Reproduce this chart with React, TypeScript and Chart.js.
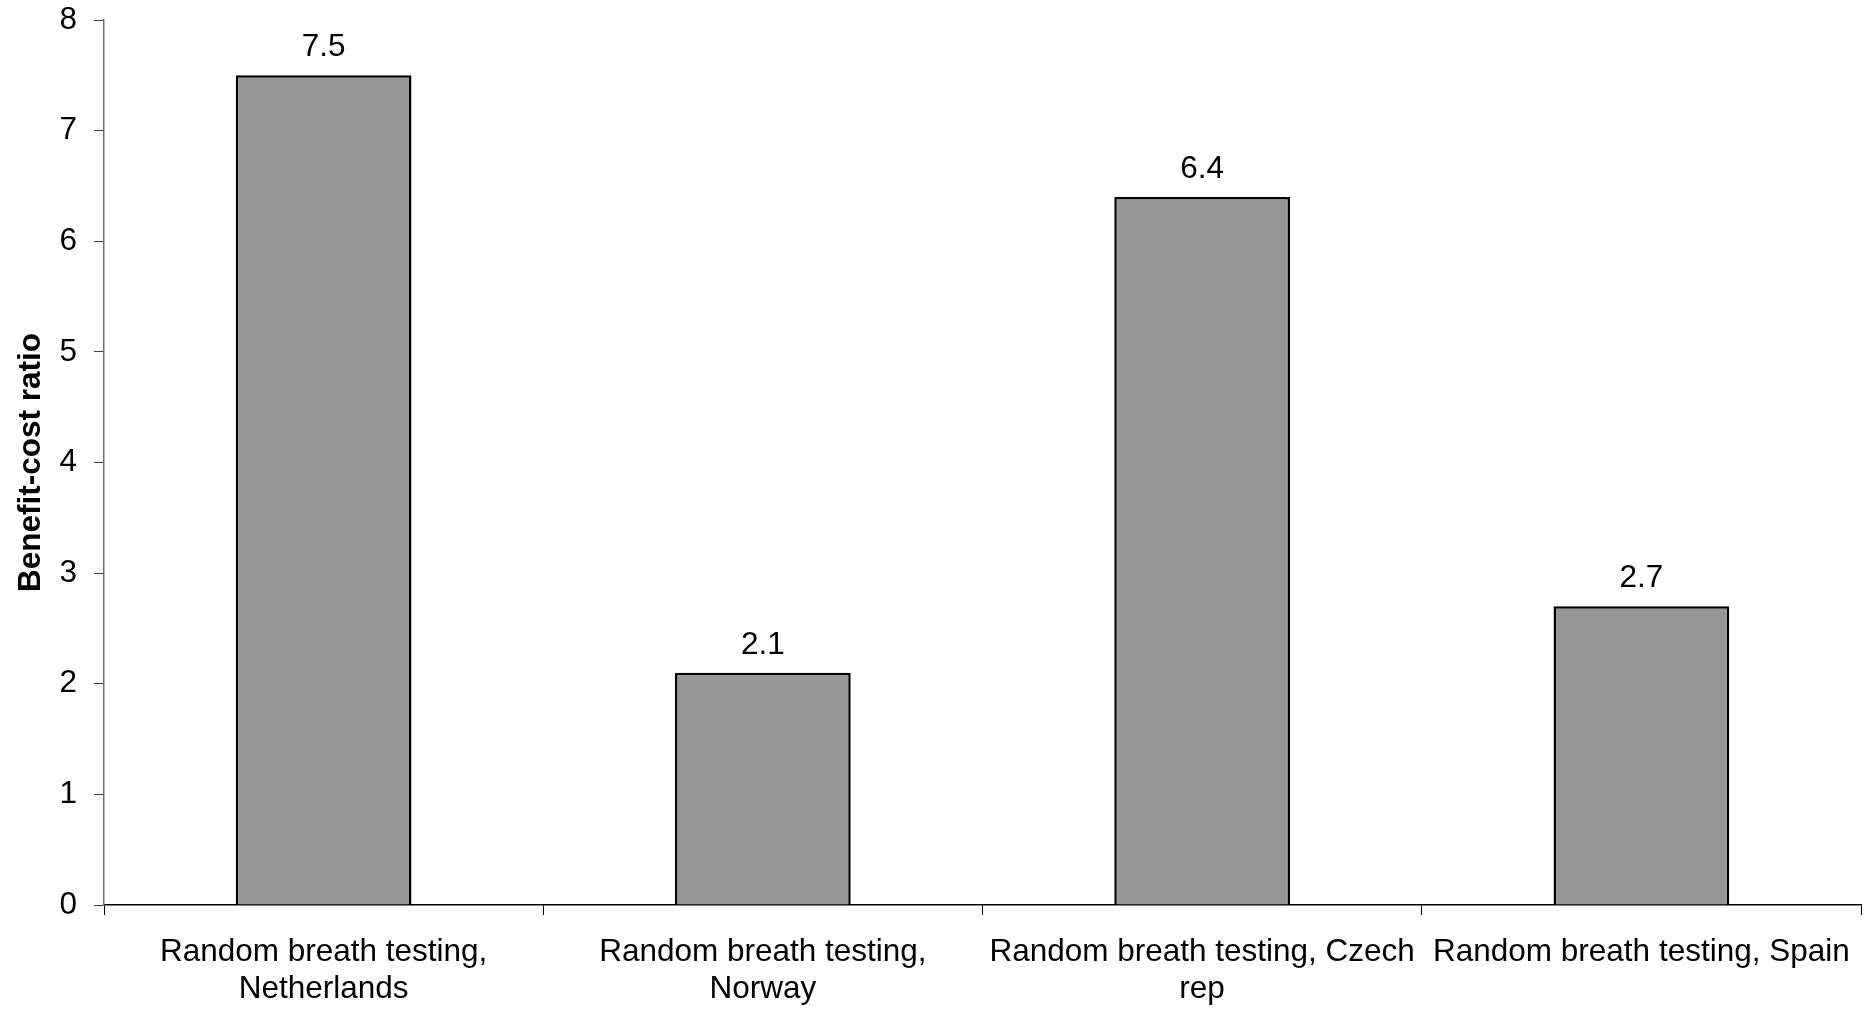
import React, { useEffect, useRef } from "react";
import { Chart, registerables } from "chart.js";

Chart.register(...registerables);

const categories: string[][] = [
  ["Random breath testing,", "Netherlands"],
  ["Random breath testing,", "Norway"],
  ["Random breath testing, Czech", "rep"],
  ["Random breath testing, Spain"],
];
const ratios: number[] = [7.5, 2.1, 6.4, 2.7];
const valueLabels: string[] = ["7.5", "2.1", "6.4", "2.7"];
const yTitle = "Benefit-cost ratio";

const FONT = "'Liberation Sans', Arial, sans-serif";

const valueLabelPlugin = {
  id: "valueLabels",
  afterDatasetsDraw(chart: any) {
    const ctx = chart.ctx;
    const meta = chart.getDatasetMeta(0);
    ctx.save();
    ctx.font = `31.5px ${FONT}`;
    ctx.fillStyle = "#000";
    ctx.textAlign = "center";
    ctx.textBaseline = "alphabetic";
    meta.data.forEach((bar: any, i: number) => {
      ctx.fillText(valueLabels[i], bar.x, bar.y - 19);
    });
    ctx.restore();
  },
};

export default function App() {
  const ref = useRef<HTMLCanvasElement | null>(null);
  useEffect(() => {
    if (!ref.current) return;
    const chart = new Chart(ref.current, {
      type: "bar",
      data: {
        labels: categories,
        datasets: [
          {
            data: ratios,
            backgroundColor: "#969696",
            borderColor: "#000000",
            borderWidth: 2.5,
            categoryPercentage: 1,
            barPercentage: 0.4,
          },
        ],
      },
      options: {
        responsive: false,
        animation: false,
        layout: { padding: { top: 20, right: 6, left: 0, bottom: 0 } },
        plugins: { legend: { display: false }, tooltip: { enabled: false } },
        scales: {
          x: {
            offset: true,
            grid: {
              offset: true,
              drawOnChartArea: false,
              tickLength: 10,
              tickColor: "#000",
              tickWidth: 1,
            },
            border: { color: "#000", width: 1.5 },
            ticks: {
              color: "#000",
              font: { family: FONT, size: 31.5, lineHeight: 1.2 },
              padding: 18,
              maxRotation: 0,
              autoSkip: false,
            },
            afterFit: (scale: any) => {
              scale.height = 108;
              scale.paddingLeft = 0;
              scale.paddingRight = 0;
            },
          },
          y: {
            min: 0,
            max: 8,
            ticks: {
              stepSize: 1,
              color: "#000",
              font: { family: FONT, size: 31.5 },
              padding: 17,
            },
            grid: {
              drawOnChartArea: false,
              tickLength: 10,
              tickColor: "#404040",
            },
            border: { color: "#707070", width: 1.5 },
            title: {
              display: true,
              text: yTitle,
              color: "#000",
              font: { family: FONT, size: 31.5, weight: "bold", lineHeight: 1.2 },
              padding: { top: 12, bottom: 0 },
            },
            afterFit: (scale: any) => {
              scale.width = 104;
              scale.paddingTop = 0;
              scale.paddingBottom = 0;
            },
          },
        },
      },
      plugins: [valueLabelPlugin],
    } as any);
    return () => chart.destroy();
  }, []);
  return (
    <div style={{ position: "absolute", left: 0, top: 0, width: 1867, height: 1013, background: "#fff" }}>
      <canvas ref={ref} width={1867} height={1013} style={{ display: "block" }} />
    </div>
  );
}
